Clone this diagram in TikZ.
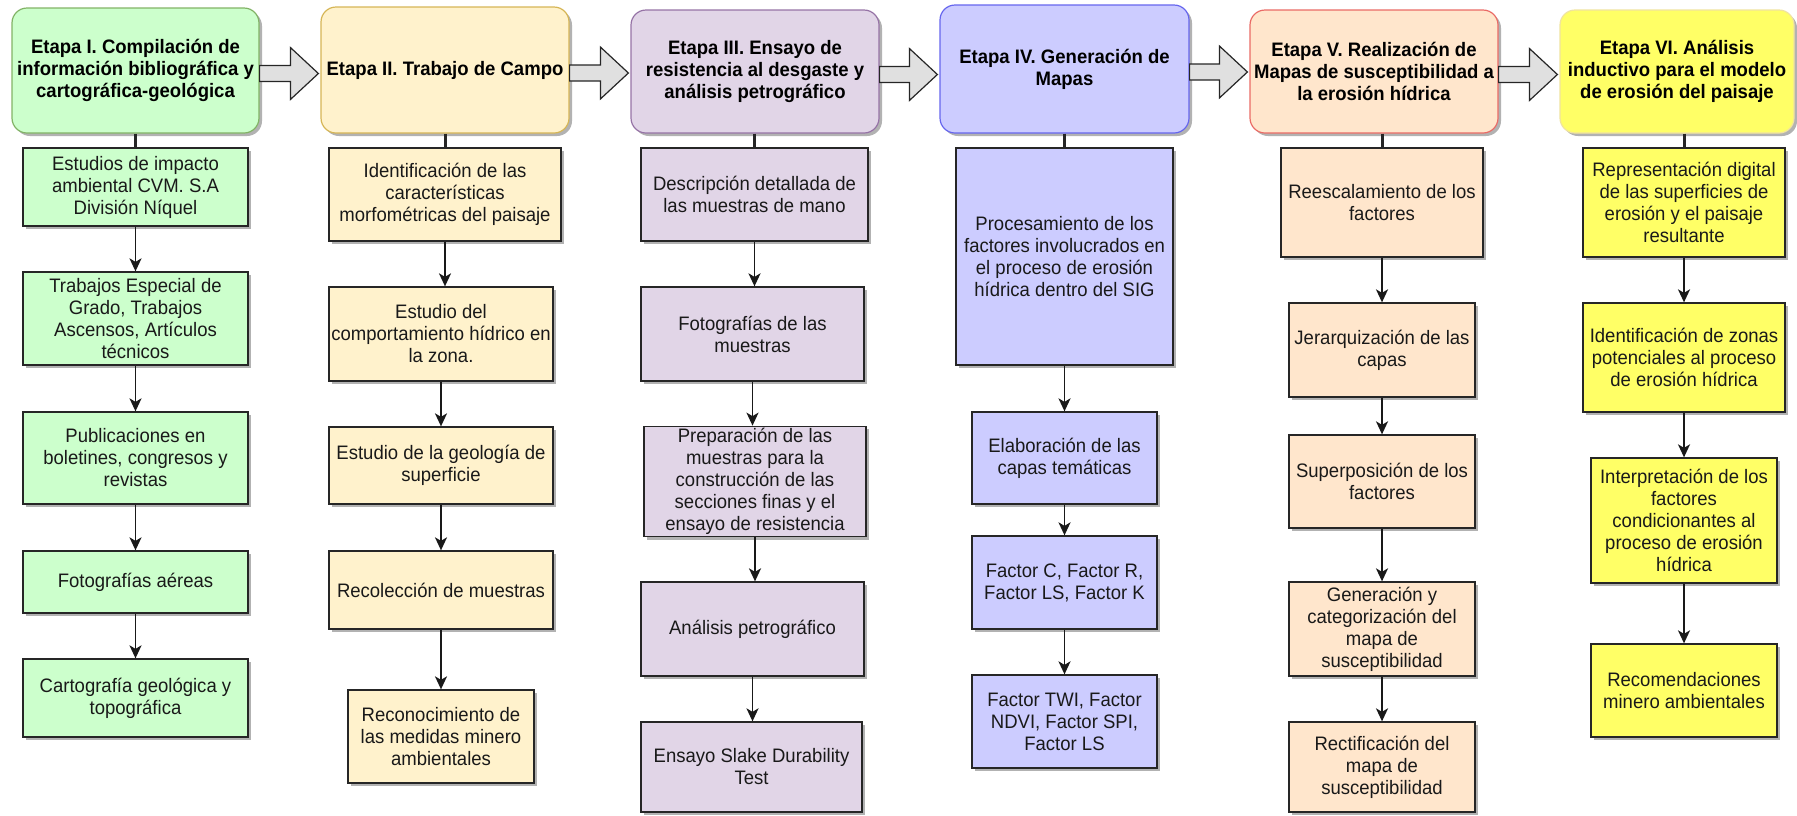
\documentclass[tikz,border=0pt]{standalone}
\usepackage{fontspec}
\setmainfont{Liberation Sans}[FakeStretch=0.95]
\usetikzlibrary{arrows.meta,shadows,calc}

% stage colours (fill / outline)
\definecolor{gfill}{HTML}{CCFFCC} \definecolor{gline}{HTML}{82B366}
\definecolor{yfill}{HTML}{FFF2CC} \definecolor{yline}{HTML}{D6B656}
\definecolor{pfill}{HTML}{E1D5E7} \definecolor{pline}{HTML}{9673A6}
\definecolor{bfill}{HTML}{CCCCFF} \definecolor{bline}{HTML}{6666EE}
\definecolor{ofill}{HTML}{FFE6CC} \definecolor{oline}{HTML}{EA6B66}
\definecolor{lfill}{HTML}{FFFF66} \definecolor{lline}{HTML}{F0E3A0}
\definecolor{arrowgray}{HTML}{E0E0E0}

\tikzset{
  base/.style={align=center, inner sep=2pt,
    font=\fontsize{19.5}{22}\selectfont,
    drop shadow={shadow xshift=3pt, shadow yshift=-3pt, fill=black, opacity=0.3}},
  stage/.style={base, rounded corners=15pt, line width=1.2pt,
    font=\bfseries\fontsize{19.5}{22}\selectfont},
  task/.style={base, draw=black!85, line width=1.3pt, text=black!90},
  link/.style={line width=3pt, draw=black!85},
  flow/.style={line width=1.8pt, draw=black!90,
    -{Stealth[length=13pt,width=12pt,inset=3.5pt]}},
  bigarrow/.style={draw=black!85, line width=1.2pt, fill=arrowgray, line join=miter},
}

% box from its left, top, right and bottom edges (y grows downwards)
\newcommand\boxnode[7]{%
  \node[#1, minimum width={(#5)-(#3)}, minimum height={(#6)-(#4)}]
    (#2) at ({((#3)+(#5))/2},{((#4)+(#6))/2}) {#7};}

% wide hollow arrow between two stage headers
\newcommand\stagearrow[2]{%
  \draw[bigarrow] let \p1=($(#1.east)+(0,3)$), \p2=(#2.west) in
    (\x1,\y1+8pt) -- (\x2-30pt,\y1+8pt) -- (\x2-30pt,\y1+26pt)
    -- (\x2-2pt,\y1) -- (\x2-30pt,\y1-26pt) -- (\x2-30pt,\y1-8pt)
    -- (\x1,\y1-8pt) -- cycle;}

\begin{document}
\begin{tikzpicture}[x=1pt,y=-1pt]
\useasboundingbox (0,0) rectangle (1797,815);

% ---- stage headers ----
\boxnode{stage,draw=gline,fill=gfill}{h1}{12}{8}{259}{133}{Etapa I. Compilación de\\información bibliográfica y\\cartográfica-geológica}
\boxnode{stage,draw=yline,fill=yfill}{h2}{321}{7}{569}{133}{Etapa II. Trabajo de Campo}
\boxnode{stage,draw=pline,fill=pfill}{h3}{631}{10}{879}{133}{Etapa III. Ensayo de\\resistencia al desgaste y\\análisis petrográfico}
\boxnode{stage,draw=bline,fill=bfill}{h4}{940}{5}{1189}{133}{Etapa IV. Generación de\\Mapas}
\boxnode{stage,draw=oline,fill=ofill}{h5}{1250}{10}{1498}{133}{Etapa V. Realización de\\Mapas de susceptibilidad a\\la erosión hídrica}
\boxnode{stage,draw=lline,fill=lfill}{h6}{1560}{10}{1794}{133}{Etapa VI. Análisis\\inductivo para el modelo\\de erosión del paisaje}

\stagearrow{h1}{h2}
\stagearrow{h2}{h3}
\stagearrow{h3}{h4}
\stagearrow{h4}{h5}
\stagearrow{h5}{h6}

% ---- stage I ----
\boxnode{task,fill=gfill}{c11}{23}{148}{248}{226}{Estudios de impacto\\ambiental CVM. S.A\\División Níquel}
\boxnode{task,fill=gfill}{c12}{23}{272}{248}{365}{Trabajos Especial de\\Grado, Trabajos\\Ascensos, Artículos\\técnicos}
\boxnode{task,fill=gfill}{c13}{23}{412}{248}{504}{Publicaciones en\\boletines, congresos y\\revistas}
\boxnode{task,fill=gfill}{c14}{23}{551}{248}{613}{Fotografías aéreas}
\boxnode{task,fill=gfill}{c15}{23}{659}{248}{737}{Cartografía geológica y\\topográfica}

% ---- stage II ----
\boxnode{task,fill=yfill}{c21}{329}{148}{561}{241}{Identificación de las\\características\\morfométricas del paisaje}
\boxnode{task,fill=yfill}{c22}{329}{287}{553}{381}{Estudio del\\comportamiento hídrico en\\la zona.}
\boxnode{task,fill=yfill}{c23}{329}{427}{553}{504}{Estudio de la geología de\\superficie}
\boxnode{task,fill=yfill}{c24}{329}{551}{553}{629}{Recolección de muestras}
\boxnode{task,fill=yfill}{c25}{348}{690}{534}{783}{Reconocimiento de\\las medidas minero\\ambientales}

% ---- stage III ----
\boxnode{task,fill=pfill}{c31}{641}{148}{868}{241}{Descripción detallada de\\las muestras de mano}
\boxnode{task,fill=pfill}{c32}{641}{287}{864}{381}{Fotografías de las\\muestras}
\boxnode{task,fill=pfill}{c33}{644}{427}{866}{536}{Preparación de las\\muestras para la\\construcción de las\\secciones finas y el\\ensayo de resistencia}
\boxnode{task,fill=pfill}{c34}{641}{582}{864}{676}{Análisis petrográfico}
\boxnode{task,fill=pfill}{c35}{641}{722}{862}{812}{Ensayo Slake Durability\\Test}

% ---- stage IV ----
\boxnode{task,fill=bfill}{c41}{956}{148}{1173}{365}{Procesamiento de los\\factores involucrados en\\el proceso de erosión\\hídrica dentro del SIG}
\boxnode{task,fill=bfill}{c42}{972}{412}{1157}{504}{Elaboración de las\\capas temáticas}
\boxnode{task,fill=bfill}{c43}{972}{536}{1157}{629}{Factor C, Factor R,\\Factor LS, Factor K}
\boxnode{task,fill=bfill}{c44}{972}{675}{1157}{768}{Factor TWI, Factor\\NDVI, Factor SPI,\\Factor LS}

% ---- stage V ----
\boxnode{task,fill=ofill}{c51}{1281}{148}{1483}{257}{Reescalamiento de los\\factores}
\boxnode{task,fill=ofill}{c52}{1289}{303}{1475}{397}{Jerarquización de las\\capas}
\boxnode{task,fill=ofill}{c53}{1289}{435}{1475}{528}{Superposición de los\\factores}
\boxnode{task,fill=ofill}{c54}{1289}{582}{1475}{676}{Generación y\\categorización del\\mapa de\\susceptibilidad}
\boxnode{task,fill=ofill}{c55}{1289}{722}{1475}{812}{Rectificación del\\mapa de\\susceptibilidad}

% ---- stage VI ----
\boxnode{task,fill=lfill}{c61}{1583}{148}{1785}{257}{Representación digital\\de las superficies de\\erosión y el paisaje\\resultante}
\boxnode{task,fill=lfill}{c62}{1583}{303}{1785}{412}{Identificación de zonas\\potenciales al proceso\\de erosión hídrica}
\boxnode{task,fill=lfill}{c63}{1591}{458}{1777}{583}{Interpretación de los\\factores\\condicionantes al\\proceso de erosión\\hídrica}
\boxnode{task,fill=lfill}{c64}{1591}{644}{1777}{737}{Recomendaciones\\minero ambientales}

% ---- header-to-column links ----
\foreach \h/\c in {h1/c11, h2/c21, h3/c31, h4/c41, h5/c51, h6/c61}
  \draw[link] (\h.south -| \c.north) -- (\c.north);

% ---- flow inside each column ----
\foreach \a/\b in {c11/c12, c12/c13, c13/c14, c14/c15,
                   c21/c22, c22/c23, c23/c24, c24/c25,
                   c31/c32, c32/c33, c33/c34, c34/c35,
                   c41/c42, c42/c43, c43/c44,
                   c51/c52, c52/c53, c53/c54, c54/c55,
                   c61/c62, c62/c63, c63/c64}
  \draw[flow] (\a.south) -- (\a.south |- \b.north);
\end{tikzpicture}
\end{document}
